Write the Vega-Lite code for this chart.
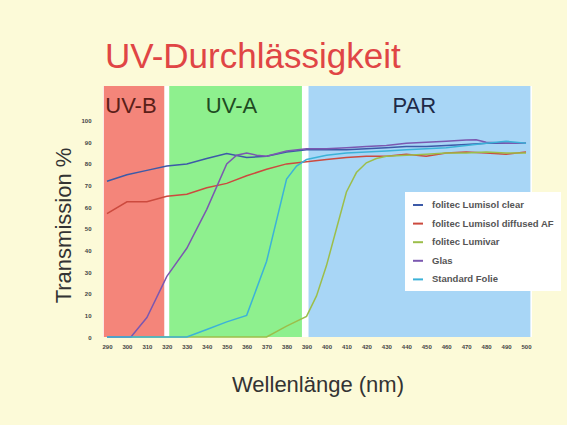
{
  "$schema": "https://vega.github.io/schema/vega-lite/v6.json",
  "width": 429,
  "height": 251,
  "autosize": {"type": "none"},
  "padding": {"left": 103, "top": 86, "right": 35, "bottom": 88},
  "background": "#fcfad8",
  "config": {
    "view": {"fill": "white", "stroke": null},
    "font": "Liberation Sans",
    "axisX": {"labelOverlap": false, "labelFlush": false},
    "axisY": {"labelOverlap": false, "labelFlush": false}
  },
  "title": {
    "text": "UV-Durchlässigkeit",
    "anchor": "start",
    "frame": "group",
    "fontSize": 35,
    "fontWeight": "normal",
    "color": "#e04545",
    "font": "Liberation Sans",
    "baseline": "alphabetic",
    "offset": 18,
    "dx": 2,
    "dy": 35
  },
  "datasets": {
    "bands": [
      {"band": "UV-B", "start": 288.4, "end": 318.7, "center": 302},
      {"band": "UV-A", "start": 321.2, "end": 387.7, "center": 352.4},
      {"band": "PAR", "start": 391, "end": 502.2, "center": 444}
    ],
    "curves": [
      {"series": "folitec Lumisol clear", "nm": 290, "t": 72},
      {"series": "folitec Lumisol clear", "nm": 300, "t": 75},
      {"series": "folitec Lumisol clear", "nm": 310, "t": 77},
      {"series": "folitec Lumisol clear", "nm": 320, "t": 79},
      {"series": "folitec Lumisol clear", "nm": 330, "t": 80},
      {"series": "folitec Lumisol clear", "nm": 340, "t": 82.5},
      {"series": "folitec Lumisol clear", "nm": 350, "t": 84.8},
      {"series": "folitec Lumisol clear", "nm": 360, "t": 83},
      {"series": "folitec Lumisol clear", "nm": 370, "t": 83.5},
      {"series": "folitec Lumisol clear", "nm": 380, "t": 85.5},
      {"series": "folitec Lumisol clear", "nm": 390, "t": 86.5},
      {"series": "folitec Lumisol clear", "nm": 400, "t": 86.5},
      {"series": "folitec Lumisol clear", "nm": 410, "t": 86.5},
      {"series": "folitec Lumisol clear", "nm": 420, "t": 87},
      {"series": "folitec Lumisol clear", "nm": 430, "t": 87.5},
      {"series": "folitec Lumisol clear", "nm": 440, "t": 88},
      {"series": "folitec Lumisol clear", "nm": 450, "t": 88},
      {"series": "folitec Lumisol clear", "nm": 460, "t": 88.5},
      {"series": "folitec Lumisol clear", "nm": 470, "t": 89},
      {"series": "folitec Lumisol clear", "nm": 480, "t": 89.5},
      {"series": "folitec Lumisol clear", "nm": 490, "t": 89.5},
      {"series": "folitec Lumisol clear", "nm": 500, "t": 89.5},

      {"series": "folitec Lumisol diffused AF", "nm": 290, "t": 57},
      {"series": "folitec Lumisol diffused AF", "nm": 300, "t": 62.5},
      {"series": "folitec Lumisol diffused AF", "nm": 310, "t": 62.5},
      {"series": "folitec Lumisol diffused AF", "nm": 320, "t": 65},
      {"series": "folitec Lumisol diffused AF", "nm": 330, "t": 66},
      {"series": "folitec Lumisol diffused AF", "nm": 340, "t": 69},
      {"series": "folitec Lumisol diffused AF", "nm": 350, "t": 71},
      {"series": "folitec Lumisol diffused AF", "nm": 360, "t": 74.5},
      {"series": "folitec Lumisol diffused AF", "nm": 370, "t": 77.5},
      {"series": "folitec Lumisol diffused AF", "nm": 380, "t": 80},
      {"series": "folitec Lumisol diffused AF", "nm": 390, "t": 81},
      {"series": "folitec Lumisol diffused AF", "nm": 400, "t": 82},
      {"series": "folitec Lumisol diffused AF", "nm": 410, "t": 83},
      {"series": "folitec Lumisol diffused AF", "nm": 420, "t": 83.5},
      {"series": "folitec Lumisol diffused AF", "nm": 430, "t": 83.5},
      {"series": "folitec Lumisol diffused AF", "nm": 440, "t": 84.5},
      {"series": "folitec Lumisol diffused AF", "nm": 450, "t": 83.5},
      {"series": "folitec Lumisol diffused AF", "nm": 460, "t": 85},
      {"series": "folitec Lumisol diffused AF", "nm": 470, "t": 85.5},
      {"series": "folitec Lumisol diffused AF", "nm": 480, "t": 85},
      {"series": "folitec Lumisol diffused AF", "nm": 490, "t": 84.5},
      {"series": "folitec Lumisol diffused AF", "nm": 500, "t": 85.5},

      {"series": "folitec Lumivar", "nm": 290, "t": 0},
      {"series": "folitec Lumivar", "nm": 300, "t": 0},
      {"series": "folitec Lumivar", "nm": 310, "t": 0},
      {"series": "folitec Lumivar", "nm": 320, "t": 0},
      {"series": "folitec Lumivar", "nm": 330, "t": 0},
      {"series": "folitec Lumivar", "nm": 340, "t": 0},
      {"series": "folitec Lumivar", "nm": 350, "t": 0},
      {"series": "folitec Lumivar", "nm": 360, "t": 0},
      {"series": "folitec Lumivar", "nm": 370, "t": 0},
      {"series": "folitec Lumivar", "nm": 380, "t": 5},
      {"series": "folitec Lumivar", "nm": 390, "t": 9.5},
      {"series": "folitec Lumivar", "nm": 395, "t": 19},
      {"series": "folitec Lumivar", "nm": 400, "t": 33},
      {"series": "folitec Lumivar", "nm": 405, "t": 50},
      {"series": "folitec Lumivar", "nm": 410, "t": 67},
      {"series": "folitec Lumivar", "nm": 415, "t": 76},
      {"series": "folitec Lumivar", "nm": 420, "t": 80.5},
      {"series": "folitec Lumivar", "nm": 425, "t": 82.5},
      {"series": "folitec Lumivar", "nm": 430, "t": 83.5},
      {"series": "folitec Lumivar", "nm": 440, "t": 84},
      {"series": "folitec Lumivar", "nm": 450, "t": 84.5},
      {"series": "folitec Lumivar", "nm": 460, "t": 85},
      {"series": "folitec Lumivar", "nm": 470, "t": 85},
      {"series": "folitec Lumivar", "nm": 480, "t": 85.5},
      {"series": "folitec Lumivar", "nm": 490, "t": 85},
      {"series": "folitec Lumivar", "nm": 500, "t": 85},

      {"series": "Glas", "nm": 290, "t": 0},
      {"series": "Glas", "nm": 302, "t": 0},
      {"series": "Glas", "nm": 310, "t": 9},
      {"series": "Glas", "nm": 320, "t": 28},
      {"series": "Glas", "nm": 330, "t": 41},
      {"series": "Glas", "nm": 340, "t": 59},
      {"series": "Glas", "nm": 350, "t": 80},
      {"series": "Glas", "nm": 355, "t": 84},
      {"series": "Glas", "nm": 360, "t": 85},
      {"series": "Glas", "nm": 365, "t": 84},
      {"series": "Glas", "nm": 370, "t": 83.5},
      {"series": "Glas", "nm": 380, "t": 86},
      {"series": "Glas", "nm": 390, "t": 87},
      {"series": "Glas", "nm": 400, "t": 87},
      {"series": "Glas", "nm": 410, "t": 87.5},
      {"series": "Glas", "nm": 420, "t": 88},
      {"series": "Glas", "nm": 430, "t": 88.5},
      {"series": "Glas", "nm": 440, "t": 89.5},
      {"series": "Glas", "nm": 450, "t": 90},
      {"series": "Glas", "nm": 460, "t": 90.5},
      {"series": "Glas", "nm": 470, "t": 91},
      {"series": "Glas", "nm": 475, "t": 91.2},
      {"series": "Glas", "nm": 480, "t": 90},
      {"series": "Glas", "nm": 490, "t": 89.5},
      {"series": "Glas", "nm": 500, "t": 89.5},

      {"series": "Standard Folie", "nm": 290, "t": 0},
      {"series": "Standard Folie", "nm": 300, "t": 0},
      {"series": "Standard Folie", "nm": 310, "t": 0},
      {"series": "Standard Folie", "nm": 320, "t": 0},
      {"series": "Standard Folie", "nm": 330, "t": 0},
      {"series": "Standard Folie", "nm": 340, "t": 3.5},
      {"series": "Standard Folie", "nm": 350, "t": 7},
      {"series": "Standard Folie", "nm": 360, "t": 10},
      {"series": "Standard Folie", "nm": 370, "t": 35},
      {"series": "Standard Folie", "nm": 380, "t": 73},
      {"series": "Standard Folie", "nm": 385, "t": 79},
      {"series": "Standard Folie", "nm": 390, "t": 82},
      {"series": "Standard Folie", "nm": 400, "t": 84},
      {"series": "Standard Folie", "nm": 410, "t": 85},
      {"series": "Standard Folie", "nm": 420, "t": 85.5},
      {"series": "Standard Folie", "nm": 430, "t": 86},
      {"series": "Standard Folie", "nm": 440, "t": 86.5},
      {"series": "Standard Folie", "nm": 450, "t": 87},
      {"series": "Standard Folie", "nm": 460, "t": 87.5},
      {"series": "Standard Folie", "nm": 470, "t": 88.5},
      {"series": "Standard Folie", "nm": 480, "t": 89.5},
      {"series": "Standard Folie", "nm": 490, "t": 90.5},
      {"series": "Standard Folie", "nm": 500, "t": 89.5}
    ]
  },
  "layer": [
    {
      "data": {"name": "bands"},
      "mark": {"type": "rect"},
      "encoding": {
        "x": {
          "field": "start", "type": "quantitative",
          "scale": {"domain": [288, 503], "nice": false, "zero": false},
          "title": "Wellenlänge (nm)",
          "axis": {
            "values": [290, 300, 310, 320, 330, 340, 350, 360, 370, 380, 390, 400, 410, 420, 430, 440, 450, 460, 470, 480, 490, 500],
            "grid": false, "ticks": false, "domain": false,
            "labelFontSize": 6, "labelFontWeight": "bold", "labelColor": "#444444",
            "labelPadding": 6, "labelFlush": false, "labelOverlap": false,
            "titleFontSize": 22, "titleFontWeight": "normal", "titleColor": "#333333",
            "titleFont": "Liberation Sans", "titleY": 54, "titleBaseline": "alphabetic"
          }
        },
        "x2": {"field": "end"},
        "y": {
          "datum": 0, "type": "quantitative",
          "scale": {"domain": [0, 116], "nice": false},
          "title": "Transmission %",
          "axis": {
            "values": [0, 10, 20, 30, 40, 50, 60, 70, 80, 90, 100],
            "grid": false, "ticks": false, "domain": false,
            "labelFontSize": 6, "labelFontWeight": "bold", "labelColor": "#444444",
            "labelPadding": 12, "labelFlush": false, "labelOverlap": false,
            "titleFontSize": 22, "titleFontWeight": "normal", "titleColor": "#333333",
            "titleFont": "Liberation Sans", "titleX": -33, "titleY": 139,
            "titleBaseline": "alphabetic", "titleAngle": 270
          }
        },
        "y2": {"datum": 116},
        "fill": {
          "field": "band", "type": "nominal",
          "scale": {"domain": ["UV-B", "UV-A", "PAR"], "range": ["#f4857a", "#8ef08e", "#a8d6f6"]},
          "legend": null
        }
      }
    },
    {
      "data": {"name": "bands"},
      "mark": {"type": "text", "fontSize": 22, "baseline": "alphabetic", "align": "center", "font": "Liberation Sans"},
      "encoding": {
        "x": {
          "field": "center", "type": "quantitative",
          "title": "Wellenlänge (nm)",
          "axis": {
            "values": [290, 300, 310, 320, 330, 340, 350, 360, 370, 380, 390, 400, 410, 420, 430, 440, 450, 460, 470, 480, 490, 500],
            "grid": false, "ticks": false, "domain": false,
            "labelFontSize": 6, "labelFontWeight": "bold", "labelColor": "#444444",
            "labelPadding": 6, "labelFlush": false, "labelOverlap": false,
            "titleFontSize": 22, "titleFontWeight": "normal", "titleColor": "#333333",
            "titleFont": "Liberation Sans", "titleY": 54, "titleBaseline": "alphabetic"
          }
        },
        "y": {
          "datum": 103.4, "type": "quantitative",
          "title": "Transmission %",
          "axis": {
            "values": [0, 10, 20, 30, 40, 50, 60, 70, 80, 90, 100],
            "grid": false, "ticks": false, "domain": false,
            "labelFontSize": 6, "labelFontWeight": "bold", "labelColor": "#444444",
            "labelPadding": 12, "labelFlush": false, "labelOverlap": false,
            "titleFontSize": 22, "titleFontWeight": "normal", "titleColor": "#333333",
            "titleFont": "Liberation Sans", "titleX": -33, "titleY": 139,
            "titleBaseline": "alphabetic", "titleAngle": 270
          }
        },
        "text": {"field": "band"},
        "color": {
          "field": "band", "type": "nominal",
          "scale": {"domain": ["UV-B", "UV-A", "PAR"], "range": ["#5a2018", "#1f4a22", "#1e2a48"]},
          "legend": null
        }
      }
    },
    {
      "data": {"name": "curves"},
      "mark": {"type": "line", "strokeWidth": 1.5},
      "encoding": {
        "x": {
          "field": "nm", "type": "quantitative",
          "title": "Wellenlänge (nm)",
          "axis": {
            "values": [290, 300, 310, 320, 330, 340, 350, 360, 370, 380, 390, 400, 410, 420, 430, 440, 450, 460, 470, 480, 490, 500],
            "grid": false, "ticks": false, "domain": false,
            "labelFontSize": 6, "labelFontWeight": "bold", "labelColor": "#444444",
            "labelPadding": 6, "labelFlush": false, "labelOverlap": false,
            "titleFontSize": 22, "titleFontWeight": "normal", "titleColor": "#333333",
            "titleFont": "Liberation Sans", "titleY": 54, "titleBaseline": "alphabetic"
          }
        },
        "y": {
          "field": "t", "type": "quantitative",
          "title": "Transmission %",
          "axis": {
            "values": [0, 10, 20, 30, 40, 50, 60, 70, 80, 90, 100],
            "grid": false, "ticks": false, "domain": false,
            "labelFontSize": 6, "labelFontWeight": "bold", "labelColor": "#444444",
            "labelPadding": 12, "labelFlush": false, "labelOverlap": false,
            "titleFontSize": 22, "titleFontWeight": "normal", "titleColor": "#333333",
            "titleFont": "Liberation Sans", "titleX": -33, "titleY": 139,
            "titleBaseline": "alphabetic", "titleAngle": 270
          }
        },
        "stroke": {
          "field": "series", "type": "nominal",
          "scale": {
            "domain": ["folitec Lumisol clear", "folitec Lumisol diffused AF", "folitec Lumivar", "Glas", "Standard Folie"],
            "range": ["#3c5aa8", "#cc4a3e", "#9cbe4a", "#7b58b0", "#3cb2d8"]
          },
          "legend": {
            "orient": "none", "legendX": 302, "legendY": 106,
            "title": null, "fillColor": "white", "padding": 7,
            "labelFontSize": 9.5, "labelFontWeight": "bold", "labelColor": "#555555",
            "labelFont": "Liberation Sans", "labelOffset": 8,
            "symbolType": "stroke", "symbolSize": 100, "symbolStrokeWidth": 2,
            "rowPadding": 7.6
          }
        }
      }
    }
  ]
}
